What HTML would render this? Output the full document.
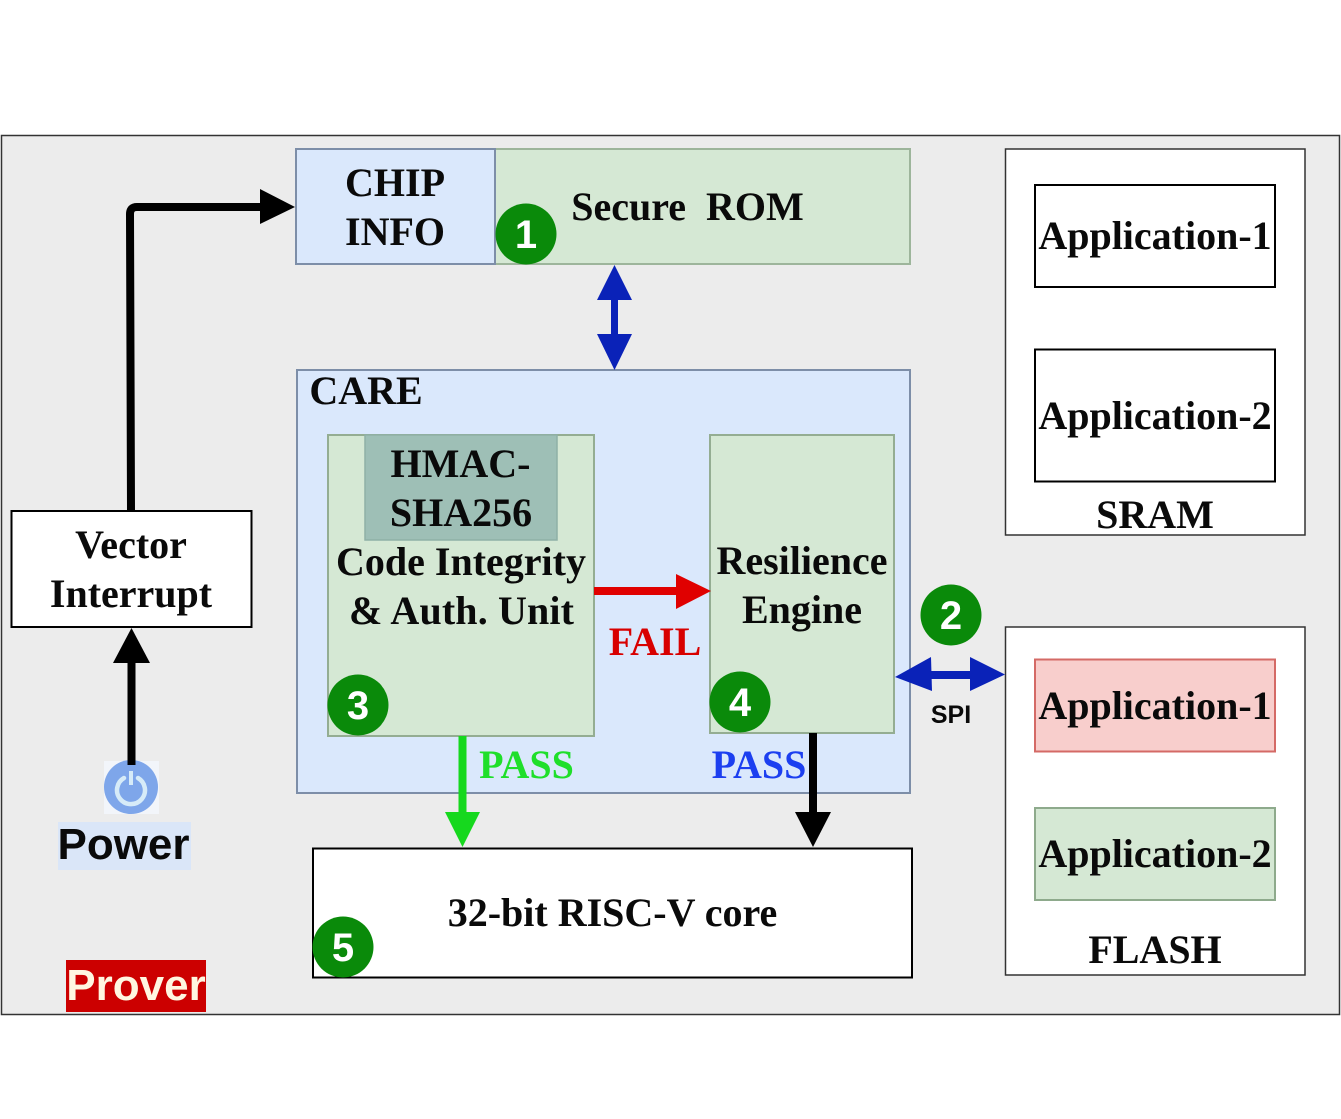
<!DOCTYPE html>
<html><head><meta charset="utf-8"><style>
html,body{margin:0;padding:0;background:#fff}
svg{display:block}
text{font-family:"Liberation Serif",serif;font-weight:bold;fill:#0a0a0a;text-anchor:middle}
.s{font-family:"Liberation Sans",sans-serif}
.t{font-size:40px}
.c{font-family:"Liberation Sans",sans-serif;font-size:40px;fill:#fff}
</style></head><body>
<svg width="1341" height="1119" viewBox="0 0 1341 1119" xmlns="http://www.w3.org/2000/svg">
<rect width="1341" height="1119" fill="#fff"/>
<rect x="1.5" y="135.5" width="1338" height="879" fill="#ececec" stroke="#333" stroke-width="1.5"/>
<!-- Secure ROM -->
<rect x="495" y="149" width="415" height="115" fill="#d5e8d4" stroke="#9db59b" stroke-width="2"/>
<rect x="296" y="149" width="199" height="115" fill="#dae8fc" stroke="#7d8ea8" stroke-width="2"/>
<text class="t" x="395" y="196">CHIP</text>
<text class="t" x="395" y="245">INFO</text>
<text class="t" x="687.500" y="220" xml:space="preserve">Secure  ROM</text>
<!-- SRAM -->
<rect x="1005.5" y="149" width="299.5" height="386" fill="#fff" stroke="#333" stroke-width="1.5"/>
<rect x="1035" y="185" width="240" height="102" fill="#fff" stroke="#000" stroke-width="2"/>
<rect x="1035" y="349.500" width="240" height="132" fill="#fff" stroke="#000" stroke-width="2"/>
<text class="t" x="1155" y="249">Application-1</text>
<text class="t" x="1155" y="429">Application-2</text>
<text class="t" x="1155" y="528">SRAM</text>
<!-- FLASH -->
<rect x="1005.5" y="627" width="299.500" height="348" fill="#fff" stroke="#333" stroke-width="1.5"/>
<rect x="1035" y="659.500" width="240" height="92" fill="#f8cecc" stroke="#d46a66" stroke-width="2"/>
<rect x="1035" y="808" width="240" height="92" fill="#d5e8d4" stroke="#8eaa8c" stroke-width="2"/>
<text class="t" x="1155" y="719">Application-1</text>
<text class="t" x="1155" y="867">Application-2</text>
<text class="t" x="1155" y="963">FLASH</text>
<!-- CARE -->
<rect x="297" y="370" width="613" height="423" fill="#dae8fc" stroke="#7d8ea8" stroke-width="2"/>
<text class="t" x="366" y="404">CARE</text>
<rect x="328" y="435" width="266" height="301" fill="#d5e8d4" stroke="#94ad92" stroke-width="2"/>
<rect x="365" y="435" width="192" height="105" fill="#9ebfb6" stroke="#8fb0a6" stroke-width="1.5"/>
<text class="t" x="460.500" y="477">HMAC-</text>
<text class="t" x="461" y="526">SHA256</text>
<text class="t" x="461" y="575">Code Integrity</text>
<text class="t" x="461.500" y="624" textLength="225" lengthAdjust="spacing">&amp; Auth. Unit</text>
<rect x="710" y="435" width="184" height="298" fill="#d5e8d4" stroke="#94ad92" stroke-width="2"/>
<text class="t" x="802" y="574">Resilience</text>
<text class="t" x="802" y="623">Engine</text>
<!-- core -->
<rect x="313" y="848.500" width="599" height="129" fill="#fff" stroke="#000" stroke-width="2"/>
<text class="t" x="612.500" y="926">32-bit RISC-V core</text>
<!-- Vector -->
<rect x="11.500" y="511" width="240" height="116" fill="#fff" stroke="#000" stroke-width="2"/>
<text class="t" x="131" y="558">Vector</text>
<text class="t" x="131" y="607">Interrupt</text>
<!-- arrows -->
<path d="M131 511 L130 214 Q130 207 137 207 L262 207" fill="none" stroke="#000" stroke-width="8"/>
<polygon points="260,189 295,207 260,224" fill="#000"/>
<rect x="127.500" y="660" width="8" height="105" fill="#000"/>
<polygon points="131.500,628 150,663 113,663" fill="#000"/>
<rect x="611" y="295" width="7" height="45" fill="#0a22b8"/>
<polygon points="614.500,265 632,300 597,300" fill="#0a22b8"/>
<polygon points="614.500,370 632,334 597,334" fill="#0a22b8"/>
<rect x="594" y="587" width="85" height="8" fill="#e00000"/>
<polygon points="711,591 676,574 676,609" fill="#e00000"/>
<rect x="458.500" y="736" width="8" height="78" fill="#16d81e"/>
<polygon points="462.500,847 445,812 480,812" fill="#16d81e"/>
<rect x="809" y="733" width="8" height="82" fill="#000"/>
<polygon points="813,847 795,812 831,812" fill="#000"/>
<rect x="925" y="671" width="50" height="8" fill="#0a22b8"/>
<polygon points="895,677 931,657 932,691" fill="#0a22b8"/>
<polygon points="1005,674.500 970,657 970,691" fill="#0a22b8"/>
<!-- labels -->
<text class="t" x="655" y="655" style="fill:#d80000">FAIL</text>
<text class="t" x="526.500" y="778" style="fill:#1fdf2a">PASS</text>
<text class="t" x="759" y="778" style="fill:#1c3ff0">PASS</text>
<text class="s" x="951" y="723" font-size="25">SPI</text>
<!-- power -->
<rect x="104" y="761" width="55" height="53" fill="#f2f5fa"/>
<circle cx="131" cy="787" r="27" fill="#7ea6ea"/>
<path d="M124 778 A14 14 0 1 0 138 778" fill="none" stroke="#d6ebf8" stroke-width="4.500" stroke-linecap="round"/>
<rect x="129" y="771" width="4" height="14" fill="#d6ebf8"/>
<rect x="127.500" y="740" width="8" height="25" fill="#000"/>
<rect x="58" y="822" width="133" height="48" fill="#dae6f8"/>
<text class="s" x="123.500" y="859" font-size="44">Power</text>
<rect x="66" y="960" width="140" height="52" fill="#cc0000"/>
<text class="s" x="136" y="1000" font-size="44" style="fill:#fff6e0">Prover</text>
<!-- badges -->
<g>
<circle cx="526" cy="234" r="30.500" fill="#0a8a0a"/><text class="c" x="526" y="248">1</text>
<circle cx="951" cy="615" r="30.500" fill="#0a8a0a"/><text class="c" x="951" y="629">2</text>
<circle cx="358" cy="705" r="30.500" fill="#0a8a0a"/><text class="c" x="358" y="719">3</text>
<circle cx="740" cy="702" r="30.500" fill="#0a8a0a"/><text class="c" x="740" y="716">4</text>
<circle cx="343" cy="947" r="30.500" fill="#0a8a0a"/><text class="c" x="343" y="961">5</text>
</g>
</svg>
</body></html>
